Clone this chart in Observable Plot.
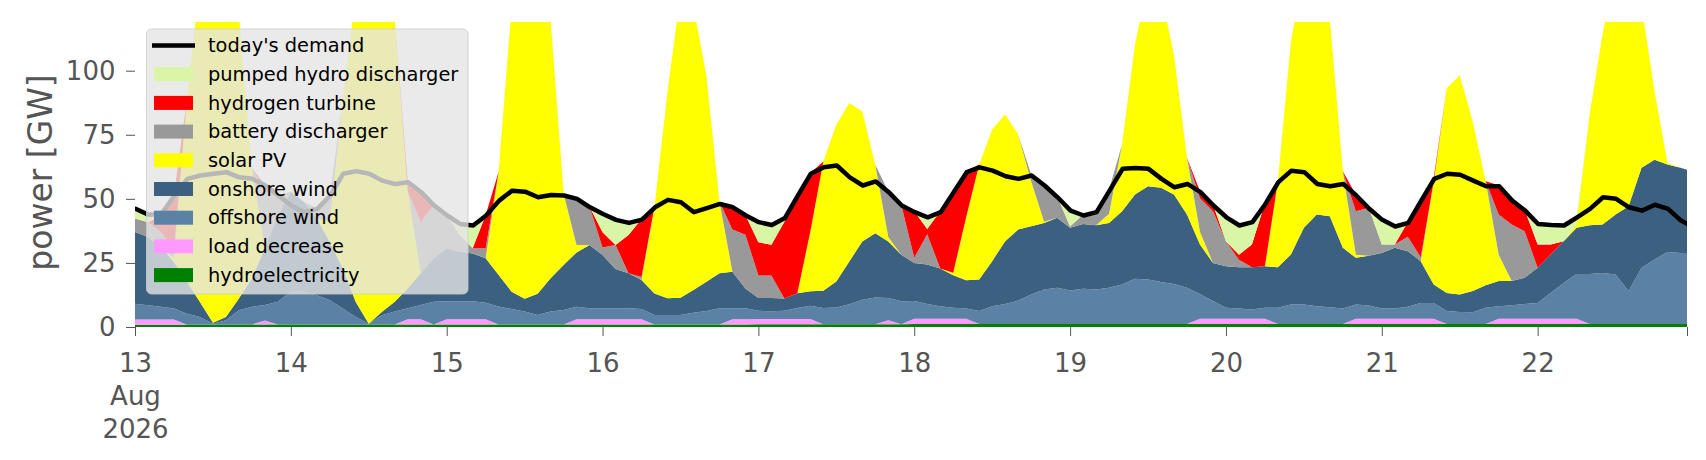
<!DOCTYPE html>
<html><head><meta charset="utf-8">
<script src="https://cdn.jsdelivr.net/npm/d3@7"></script>
<script src="https://cdn.jsdelivr.net/npm/@observablehq/plot@0.6"></script>
<style>
html,body{margin:0;padding:0;background:#fff;}
#chart{width:1706px;height:460px;}
</style></head><body><div id="chart"></div>
<script>
// Series, bottom to top of the stack
const seriesNames = ["hydroelectricity","load decrease","offshore wind","onshore wind","solar PV","battery discharger","hydrogen turbine","pumped hydro discharger"];
const seriesColors = ["#008000","#ff99ff","#5b82a5","#3b6080","#ffff00","#999999","#ff0000","#d9f5a6"];
const legendOrder = ["pumped hydro discharger","hydrogen turbine","battery discharger","solar PV","onshore wind","offshore wind","load decrease","hydroelectricity"];

// Values in GW at 00,02,...,22 h of each day 13..22 Aug 2026, plus 22 Aug 23h
const hydroelectricity = [
0.9,0.9,0.9,0.9,0.9,0.9,0.9,0.9,0.9,1.0,1.0,1.0,
1.0,1.0,0.9,0.9,0.9,0.9,0.9,0.9,1.0,1.0,1.0,1.0,
1.0,1.0,1.0,1.0,1.0,1.0,1.0,1.0,1.0,1.0,1.0,1.0,
1.0,1.0,1.0,1.0,1.0,1.0,1.0,1.0,1.0,1.0,1.0,1.0,
1.1,1.1,1.1,1.1,1.1,1.1,1.1,1.1,1.1,1.1,1.1,1.1,
1.2,1.2,1.2,1.2,1.2,1.2,1.2,1.2,1.2,1.2,1.2,1.2,
1.2,1.2,1.2,1.2,1.2,1.2,1.2,1.2,1.2,1.2,1.2,1.2,
1.2,1.2,1.2,1.2,1.2,1.2,1.2,1.2,1.2,1.2,1.2,1.2,
1.2,1.2,1.2,1.2,1.2,1.2,1.2,1.2,1.2,1.2,1.2,1.2,
1.2,1.2,1.2,1.2,1.2,1.2,1.2,1.2,1.2,1.2,1.2,1.2,1.2];
const loadDecrease = [
2,2,2,2,0,0,0,0,0,0,1.5,0,
0,0,0,0,0,0,0,0,0,2,2,0,
2,2,2,2,0,0,0,0,0,0,2,2,
2,2,2,2,0,0,0,0,0,0,2,2,
2,2,2,2,2,0,0,0,0,0,1.5,0,
2,2,2,2,2,0,0,0,0,0,0,0,
0,0,0,0,0,0,0,0,0,0,2,2,
2,2,2,2,0,0,0,0,0,0,2,2,
2,2,2,2,2,0,0,0,0,2,2,2,
2,2,2,2,0,0,0,0,0,0,0,0,0];
const offshoreWind = [
6.2,5.6,5.0,4.3,4.3,3.0,0.4,1.7,5.6,6.9,6.1,8.9,
12.8,12.8,11.5,9.5,6.3,3.0,0.4,3.7,5.0,4.3,5.6,8.9,
7.0,7.0,7.0,6.5,7.0,6.0,5.0,3.7,5.0,5.6,4.9,4.3,
4.3,4.3,4.3,4.0,3.7,3.7,3.7,4.6,5.2,6.3,4.3,4.3,
3.2,3.0,3.2,4.3,5.2,6.3,6.5,7.8,9.5,10.4,8.7,8.9,
6.9,5.8,4.9,4.3,4.0,5.0,6.9,7.8,9.1,11.5,13.4,14.1,
13.0,13.7,13.4,14.1,15.4,17.6,17.3,16.4,15.6,14.1,9.7,6.9,
4.3,4.0,3.6,4.3,6.3,7.6,7.6,6.9,6.5,6.0,5.6,5.2,
4.0,4.0,4.7,6.2,6.2,5.0,4.7,4.6,6.3,4.9,5.3,5.8,
6.2,10.1,14.0,17.5,19.5,19.9,19.3,12.8,21.9,25.1,28.1,27.7,27.7];
const onshoreWind = [
28.0,26.6,23.3,18.2,12.4,5.9,0.4,1.3,4.6,11.1,22.1,33.8,
39.0,35.1,29.9,22.8,15.6,5.9,0.0,1.3,3.9,7.7,12.4,16.9,
20.7,19.4,18.7,17.3,12.3,6.8,5.0,8.3,13.0,17.6,21.2,24.7,
20.8,15.3,13.7,11.3,8.4,6.5,6.7,8.8,11.5,13.7,14.3,7.7,
5.0,5.2,4.8,5.8,5.6,6.7,10.2,16.7,22.8,25.1,22.1,18.2,
14.9,15.4,14.7,12.7,11.0,12.3,17.6,24.5,27.7,26.6,26.0,27.3,
24.5,25.3,25.1,25.3,28.6,32.9,36.4,36.7,34.9,28.6,19.3,14.9,
16.2,16.1,16.5,16.2,15.8,19.5,29.9,35.8,35.5,23.7,18.2,19.4,
21.7,23.7,21.7,16.3,7.2,7.1,6.8,8.2,8.8,9.8,9.4,10.2,
13.7,15.0,16.3,18.0,19.0,18.9,23.4,33.1,39.0,39.0,34.1,33.2,32.5];
const solarPV = [
0,0,0,1.5,71.3,125.1,148.2,136.0,110.8,43.0,0,0,
0,0,0,8.0,66.1,120.1,143.6,129.0,110.1,38.0,0,0,
0,0,0,0,40.3,111.2,134.0,117.0,101.0,27.8,2.9,0,
0,0,0,0,33.8,80.6,118.6,110.6,80.3,27.9,0,0,
0,0,0,0,23.4,50.5,61.1,61.8,50.7,26.7,1.7,0,
0,0,0,1.0,24.7,44.9,51.4,49.4,37.1,17.6,0.5,0,
0,0,0,3.6,26.0,58.5,80.3,75.9,54.5,22.1,5.0,0,
0,0,0,0,33.6,82.9,101.5,86.3,77.0,29.9,1.2,0,
0,0,0,0,40.3,79.9,85.5,66.2,40.6,10.3,0,0,
0,0,0,1.5,43.2,74.2,96.3,88.1,63.1,26.7,0.6,0,0];
const batteryDischarger = [
5.2,5.8,5.9,3.0,0,0,0,0,0,0,22.3,7.8,
0,0,3.9,10.2,0,0,0,0,0,0,20.0,20.8,
13.0,6.6,2.0,3.9,0,0,0,0,0,0,18.2,14.9,
2.9,9.4,0,1.2,0,0,0,0,0,0,16.4,21.0,
8.8,8.8,0,0,0,0,0,0,0,0,17.8,19.5,
2.0,11.8,0,0,0,0,0,0,0,2.6,14.5,8.4,
0.5,3.7,5.5,9.4,0,0,0,0,0,0,13.0,20.2,
9.8,2.9,0,0,0,0,0,0,0,0,17.0,18.7,
3.3,1.3,5.6,1.5,0,0,0,0,0,15.7,22.1,18.2,
0,0,0,0,0,0,0,0,0,0,0,0,0];
const hydrogenTurbine = [
0,0,6.5,21.5,0,0,0,0,0,0,2.4,0,
0,0,0,0,0,0,0,0,0,3.7,11.8,0,
0,0,0,13.0,0,0,0,0,0,0,0,0,
6.0,0,14.9,22.6,0,0,0,0,0,0,8.9,7.7,
13.0,12.0,30.0,38.4,22.8,0,0,0,0,0,0,0,
18.2,2.0,22.4,31.8,17.9,0,0,0,0,0,0,0,
0,0,0,0,0,0,0,0,0,0,2.8,2.6,
0,2.0,8.9,24.7,0,0,0,0,0,0,6.5,0,
0,0,5.8,22.5,1.3,0,0,0,0,11.4,9.7,8.4,
9.1,3.9,0,0,0,0,0,0,0,0,0,0,0];
const pumpedHydroDischarger = [
3.9,3.0,0.6,0,0,0,0,0,0,0,0,0,
0,0,0,0,0,0,0,0,0,0,0,0,
0,4.4,9.1,0,0,0,0,0,0,0,0,0,
7.3,10.0,4.9,0,0,0,0,0,0,0,0,0,
8.1,8.0,1.7,0,0,0,0,0,0,0,0,0,
0,5.0,0,0,0,0,0,0,0,0,0,0,
6.6,0,0,0,0,0,0,0,0,0,0,0,
9.7,11.8,9.1,0,0,0,0,0,0,0,0,0,
10.0,7.4,0,0,0,0,0,0,0,0,0,0,
8.4,8.0,6.5,3.0,0,0,0,0,0,0,0,0,0];
const demand = [
46.3,44.0,44.3,51.5,58.0,59.3,60.0,60.6,58.6,58.0,55.4,51.5,
47.6,45.0,46.3,51.5,60.0,61.0,60.0,57.3,56.0,56.7,52.8,47.6,
43.7,40.4,39.8,43.7,49.5,53.4,53.0,50.8,51.7,51.5,50.2,46.9,
44.3,42.0,40.8,42.1,46.9,49.8,48.9,45.0,46.6,48.2,46.9,43.7,
41.1,40.0,42.7,51.5,60.0,62.5,63.2,58.6,55.4,57.0,52.8,47.6,
45.0,43.0,45.0,52.8,60.6,62.5,61.2,59.0,58.0,59.3,55.4,50.8,
45.6,43.7,45.0,53.4,61.9,62.2,61.9,58.0,54.7,56.0,52.8,47.6,
43.0,39.8,41.1,48.2,56.7,61.2,60.6,56.0,55.1,56.0,51.5,46.3,
42.0,39.4,40.8,49.5,58.0,60.0,59.6,57.3,55.1,55.1,49.5,45.6,
40.4,40.0,39.8,43.0,46.3,50.8,50.2,46.9,45.6,47.9,46.3,41.7,40.4];

const hourOffsets = d3.range(0, 240, 2).concat([239]);
const dayNumbers = [13,14,15,16,17,18,19,20,21,22];
const tickTexts = ["13\nAug\n2026","14","15","16","17","18","19","20","21","22",""];
const yTickValues = [0, 25, 50, 75, 100];

// ---- build tables ----
const t0 = Date.UTC(2026, 7, 13);
const times = hourOffsets.map(h => new Date(t0 + h * 3600e3));
const seriesValues = [hydroelectricity, loadDecrease, offshoreWind, onshoreWind, solarPV, batteryDischarger, hydrogenTurbine, pumpedHydroDischarger];
const stackData = seriesNames.flatMap((name, k) => times.map((t, i) => ({time: t, series: name, value: seriesValues[k][i]})));
const demandData = times.map((t, i) => ({time: t, value: demand[i]}));
const xTicks = dayNumbers.map(d => new Date(Date.UTC(2026, 7, d))).concat([times[times.length - 1]]);
const tickLabel = new Map(xTicks.map((d, i) => [+d, tickTexts[i]]));
const colorOf = new Map(seriesNames.map((n, i) => [n, seriesColors[i]]));

const chart = Plot.plot({
  width: 1706, height: 460,
  marginLeft: 135, marginRight: 19, marginTop: 22, marginBottom: 133,
  style: {fontFamily: "DejaVu Sans", background: "white", overflow: "visible"},
  x: {type: "utc", domain: [times[0], times[times.length - 1]], label: null},
  y: {domain: [0, 119], label: null},
  color: {domain: seriesNames, range: seriesColors},
  marks: [
    Plot.areaY(stackData, {x: "time", y: "value", z: "series", fill: "series", order: seriesNames, clip: true, curve: "linear"}),
    Plot.lineY(demandData, {x: "time", y: "value", stroke: "#000", strokeWidth: 4.5, clip: true, strokeLinejoin: "round"}),
    Plot.axisY({ticks: yTickValues, tickSize: 9, tickPadding: 11, fontSize: 26, color: "#555", label: null}),
    Plot.axisX({ticks: xTicks, tickFormat: d => tickLabel.get(+d), tickSize: 9, tickPadding: 12, fontSize: 26, lineHeight: 1.265, color: "#555", label: null})
  ]
});
document.getElementById("chart").appendChild(chart);

// ---- y label and legend ----
const svg = d3.select(chart);
svg.append("text")
  .attr("transform", "translate(51.5,172.5) rotate(-90)")
  .attr("text-anchor", "middle")
  .attr("font-family", "DejaVu Sans").attr("font-size", 33).attr("fill", "#555")
  .text("power [GW]");

const lg = svg.append("g").attr("font-family", "DejaVu Sans").attr("font-size", 19.4).attr("text-anchor", "start");
lg.append("rect").attr("x", 146.5).attr("y", 29).attr("width", 321.5).attr("height", 265).attr("rx", 5)
  .attr("fill", "#e5e5e5").attr("fill-opacity", 0.8).attr("stroke", "#cccccc").attr("stroke-opacity", 0.8);
const rowY = i => 45.5 + i * 28.7;
lg.append("line").attr("x1", 152).attr("x2", 195).attr("y1", rowY(0)).attr("y2", rowY(0)).attr("stroke", "#000").attr("stroke-width", 4.5);
lg.append("text").attr("x", 208).attr("y", rowY(0)).attr("dy", "0.35em").attr("text-anchor", "start").attr("fill", "#000").text("today's demand");
legendOrder.forEach((name, j) => {
  const y = rowY(j + 1);
  lg.append("rect").attr("x", 154).attr("y", y - 7).attr("width", 39).attr("height", 14).attr("fill", colorOf.get(name));
  lg.append("text").attr("x", 208).attr("y", y).attr("dy", "0.35em").attr("text-anchor", "start").attr("fill", "#000").text(name);
});
</script>
</body></html>
